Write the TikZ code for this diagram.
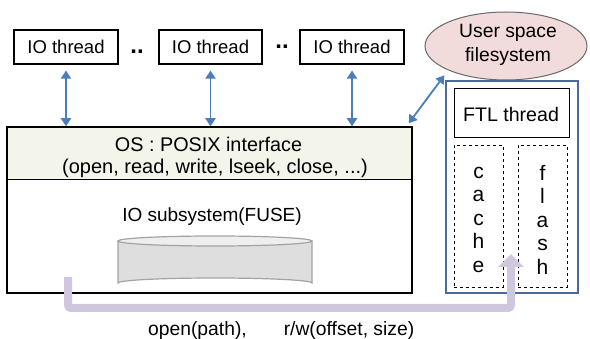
\documentclass[tikz,border=0pt]{standalone}
\usepackage{fontspec}
\setmainfont{Liberation Sans}
\usetikzlibrary{arrows.meta,shapes.geometric}
\definecolor{linkblue}{HTML}{4A7EBB}
\definecolor{boxblue}{HTML}{4A6A9A}
\definecolor{hdrfill}{HTML}{F3F4EA}
\definecolor{ufsfill}{HTML}{F2DCDB}
\definecolor{ufsline}{HTML}{6A6A6A}
\definecolor{flowpurple}{HTML}{D0C7DF}
\definecolor{diskfill}{HTML}{DEDEDE}
\definecolor{diskline}{HTML}{A3A3A3}
\tikzset{
  txt/.style={font=\fontsize{19}{22}\selectfont, inner sep=0pt, anchor=base},
  threadbox/.style={draw, line width=1.1pt, minimum height=34pt, inner sep=0pt,
    font=\fontsize{18.5}{22}\selectfont, text depth=1.2pt},
  link/.style={draw=linkblue, line width=1.8pt,
    {Triangle[width=10pt,length=8pt]}-{Triangle[width=10pt,length=8pt]}},
  dashbox/.style={draw, dashed, line width=0.8pt, minimum width=49pt, minimum height=142pt,
    inner sep=0pt},
  letters/.style={align=center, inner sep=0pt, font=\fontsize{21}{23.5}\selectfont},
}
\begin{document}
\begin{tikzpicture}[x=1pt,y=-1pt]
\useasboundingbox (0,0) rectangle (590,339);

% worker threads
\node[threadbox, minimum width=104pt] (t1) at (66,47) {IO thread};
\node[threadbox, minimum width=103pt] (t2) at (210.5,47) {IO thread};
\node[threadbox, minimum width=104pt] (t3) at (352,47) {IO thread};
\node[txt, font=\fontsize{24}{24}\selectfont\bfseries] (d1) at (137,54) {..};
\node[txt, font=\fontsize{24}{24}\selectfont\bfseries] (d2) at (282,49) {..};

% operating system block
\node[minimum width=405pt, minimum height=52pt, fill=hdrfill, inner sep=0pt] (hdr) at (209.5,153) {};
\node[draw, line width=1.5pt, minimum width=405pt, minimum height=166pt, inner sep=0pt] (os) at (209.5,210) {};
\draw[line width=0.8pt] (hdr.south west) -- (hdr.south east);
\node[txt, font=\fontsize{19.8}{22}\selectfont] (posix) at (208.5,152) {OS : POSIX interface};
\node[txt, font=\fontsize{20}{22}\selectfont] (calls) at (215,174) {(open, read, write, lseek, close, ...)};
\node[txt] (fuse) at (212,222) {IO subsystem(FUSE)};

% disk drum
\coordinate (disk) at (215,241);
\fill[diskfill] (118,241) -- (118,283) arc[start angle=180, end angle=360, x radius=97, y radius=5]
  -- (312,241) arc[start angle=0, end angle=180, x radius=97, y radius=5] -- cycle;
\draw[diskline, line width=1.2pt] (118,241) -- (118,283) arc[start angle=180, end angle=360, x radius=97, y radius=5]
  -- (312,241);
\draw[diskline, line width=1.2pt, fill=diskfill!50!white] (disk) ellipse[x radius=97, y radius=5];

% user space filesystem
\node[ellipse, draw=ufsline, line width=1pt, fill=ufsfill, minimum width=162pt, minimum height=68pt,
  inner sep=0pt] (ufs) at (506,46) {};
\node[txt, font=\fontsize{19.3}{22}\selectfont] (ufs1) at (508,38) {User space};
\node[txt, font=\fontsize{19.3}{22}\selectfont] (ufs2) at (508,62) {filesystem};
\node[draw=boxblue, line width=1.3pt, minimum width=132pt, minimum height=212pt, inner sep=0pt] (fs) at (512,187) {};
\node[draw, line width=1pt, minimum width=115pt, minimum height=49pt, inner sep=0pt] (ftl) at (511.5,113.5) {};
\node[txt, font=\fontsize{19.6}{22}\selectfont] (ftltxt) at (511,122) {FTL thread};
\node[dashbox] (cache) at (478.5,216) {};
\node[dashbox] (flash) at (542.5,216) {};
\node[letters] (cachetxt) at (478.5,219.5) {c\\a\\c\\h\\e};
\node[letters] (flashtxt) at (542.5,219.5) {f\\l\\a\\s\\h};

% connectors
\draw[link, shorten <=6pt] (t1.south) -- (t1.south |- os.north);
\draw[link, shorten <=6pt] (t2.south) -- (t2.south |- os.north);
\draw[link, shorten <=6pt] (t3.south) -- (t3.south |- os.north);
\draw[link] ([shift={(-4,-3)}]os.north east) -- ([shift={(-1,-5)}]fs.north west);

% request path into the device
\coordinate (pa) at (68,277);
\coordinate (pb) at (511,308);
\coordinate (pc) at (511,254);
\draw[flowpurple, line width=8pt, rounded corners=3pt,
  -{Triangle[width=25pt,length=13pt]}] (pa) |- (pb) -- (pc);

\node[txt, font=\fontsize{19.3}{22}\selectfont] (lbl1) at (197.5,336) {open(path),};
\node[txt, font=\fontsize{19.3}{22}\selectfont] (lbl2) at (349,336) {r/w(offset, size)};
\end{tikzpicture}
\end{document}
